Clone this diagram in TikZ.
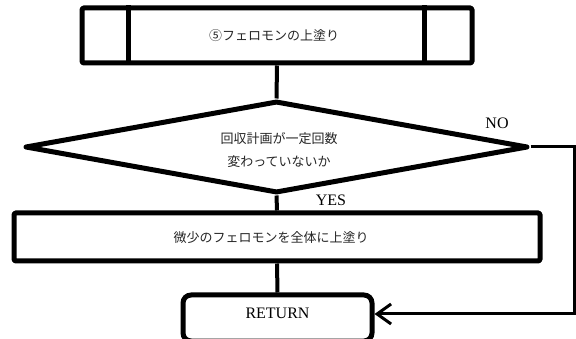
\documentclass[tikz,border=0pt]{standalone}
\usepackage{fontspec}
\setmainfont{Liberation Serif}
\newfontfamily\jp{Noto Sans CJK JP}
\usetikzlibrary{shapes.geometric,arrows.meta}
\begin{document}
\begin{tikzpicture}[x=1pt,y=-1pt,
  shapeline/.style={draw, line width=5pt, line join=round, inner sep=0pt},
  conn/.style={line width=4pt},
  jptext/.style={font=\jp\fontsize{13}{23}\selectfont, text=black!85, align=center},
  latin/.style={font=\fontsize{16}{18}\selectfont}]
\useasboundingbox (0,0) rectangle (576,339);
% predefined process
\node[shapeline, rounded corners=1.5pt, minimum width=390pt, minimum height=55pt] (pp) at (277,35.5) {};
\draw[line width=5pt] ([xshift=49pt]pp.north west) -- ([xshift=49pt]pp.south west);
\draw[line width=5pt] ([xshift=-50pt]pp.north east) -- ([xshift=-50pt]pp.south east);
\node[jptext] (ppt) at (274,35.5) {⑤フェロモンの上塗り};
% decision
\node[shapeline, diamond, minimum width=503pt, minimum height=92pt] (dia) at (276.5,147) {};
\node[jptext] (diat) at (279,150.5) {回収計画が一定回数\\変わっていないか};
% process
\node[shapeline, rounded corners=1.5pt, minimum width=526pt, minimum height=48pt] (proc) at (277,237) {};
\node[jptext] (proct) at (271,238) {微少のフェロモンを全体に上塗り};
% return
\node[shapeline, rounded corners=8pt, minimum width=189pt, minimum height=46pt] (ret) at (277.5,318) {};
\node[latin] (rett) at (277.5,313) {RETURN};
% connectors
\draw[conn] (pp.south) -- (dia.north);
\draw[conn] (dia.south) -- (proc.north);
\draw[conn] (proc.south) -- (ret.north);
\coordinate (corner) at (574,147);
\draw[line width=3pt, -{Straight Barb[length=14pt,width=20pt]}] (dia.east) -- (corner) |- ([yshift=4pt]ret.east);
% labels
\node[latin] (no) at (497,123) {NO};
\node[latin] (yes) at (331,200) {YES};
\end{tikzpicture}
\end{document}
